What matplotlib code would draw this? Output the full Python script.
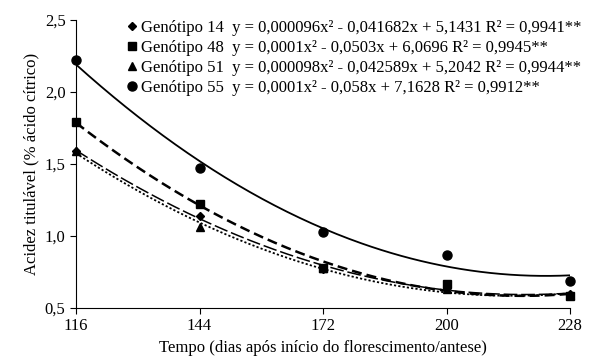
import matplotlib
matplotlib.use('Agg')
import matplotlib.pyplot as plt
import numpy as np

plt.rcParams['font.family'] = ['Liberation Serif', 'DejaVu Serif']

# dias apos inicio do florescimento
tempo = [116, 144, 172, 200, 228]

g14 = [1.59, 1.14, 0.77, 0.64, 0.60]
g48 = [1.79, 1.22, 0.78, 0.67, 0.58]
g51 = [1.59, 1.06, 0.78, 0.63, 0.59]
g55 = [2.22, 1.47, 1.03, 0.87, 0.69]

labels = ['Genótipo 14', 'Genótipo 48', 'Genótipo 51', 'Genótipo 55']
equacoes = [
    'y = 0,000096x² - 0,041682x + 5,1431 R² = 0,9941**',
    'y = 0,0001x² - 0,0503x + 6,0696 R² = 0,9945**',
    'y = 0,000098x² - 0,042589x + 5,2042 R² = 0,9944**',
    'y = 0,0001x² - 0,058x + 7,1628 R² = 0,9912**',
]

series = [g14, g48, g51, g55]
markers = ['D', 's', '^', 'o']
msizes = [4.5, 5.5, 5.5, 6.5]
estilos = [(0, (9, 2.5)), (0, (4, 2)), (0, (1.2, 1.2)), '-']
larguras = [1.1, 1.8, 1.3, 1.3]

fig = plt.figure(figsize=(5.97, 3.61), dpi=100)
ax = fig.add_axes([0.1273, 0.1468, 0.8275, 0.7978])

xs = np.linspace(116, 228, 200)
handles = []
for ys, m, ms, ls, lw in zip(series, markers, msizes, estilos, larguras):
    # linha de tendencia polinomial de 2o grau (como no Excel)
    coef = np.polyfit(tempo, ys, 2)
    ax.plot(xs, np.polyval(coef, xs), color='black', linestyle=ls, lw=lw)
    h, = ax.plot(tempo, ys, linestyle='none', marker=m, ms=ms,
                 color='black', clip_on=False, zorder=5)
    handles.append(h)

ax.legend(handles, [l + '  ' + e for l, e in zip(labels, equacoes)],
          loc='upper left', bbox_to_anchor=(0.09, 1.022), frameon=False,
          handlelength=0.6, handletextpad=0.25, labelspacing=0.24,
          fontsize=12, borderaxespad=0)

ax.set_xlim(116, 228)
ax.set_ylim(0.5, 2.5)
ax.set_xticks(tempo)
ax.set_yticks([0.5, 1.0, 1.5, 2.0, 2.5])
ax.set_yticklabels(['0,5', '1,0', '1,5', '2,0', '2,5'])
ax.tick_params(labelsize=12, direction='out', length=4, width=0.8)
ax.spines['top'].set_visible(False)
ax.spines['right'].set_visible(False)
ax.set_xlabel('Tempo (dias após início do florescimento/antese)', fontsize=12)
ax.set_ylabel('Acidez titulável (% ácido cítrico)', fontsize=12)

fig.savefig('out.png', dpi=100)
